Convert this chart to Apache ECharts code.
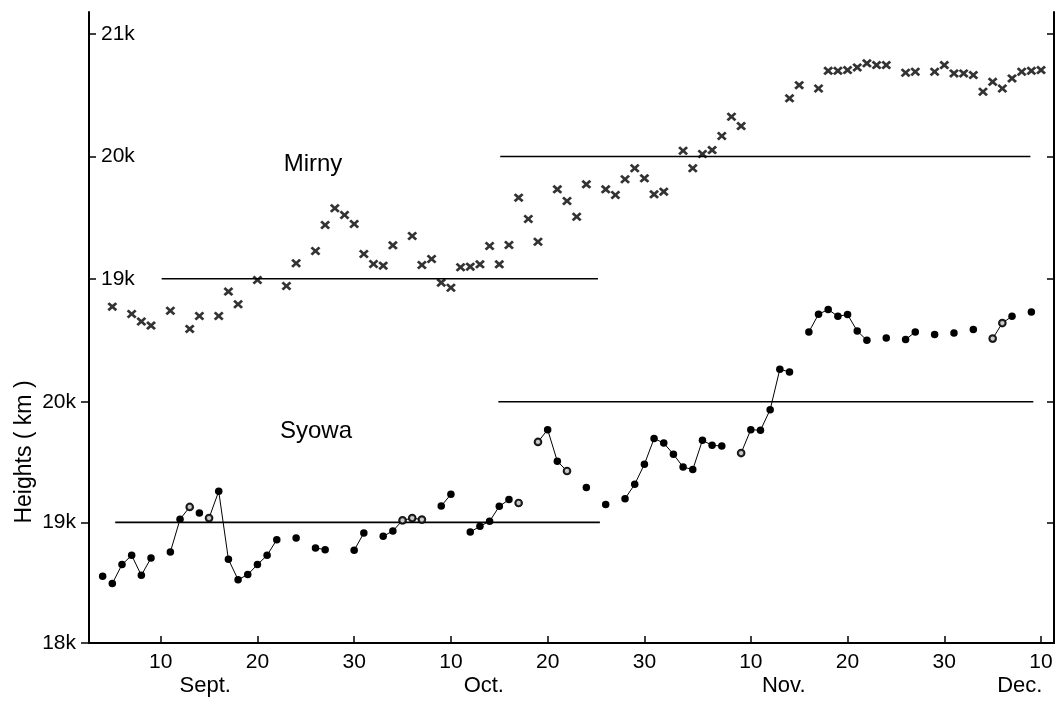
<!DOCTYPE html>
<html>
<head>
<meta charset="utf-8">
<title>Heights - Mirny and Syowa</title>
<script src="https://cdn.jsdelivr.net/npm/echarts@6/dist/echarts.min.js"></script>
<style>
  html, body { margin: 0; padding: 0; background: #fff; }
  #heightChart { width: 1061px; height: 704px; }
</style>
</head>
<body>
<div id="heightChart"></div>
<script>
// days are counted from 1 Sept (1 Oct = 31, 1 Nov = 61, 1 Dec = 91)
const tickDays = [10, 20, 30, 40, 50, 60, 71, 81, 91, 101];
const tickLabels = ['10', '20', '30', '10', '20', '30', '10', '20', '30', '10'];
const monthDays = [14.6, 43.4, 74.4, 98.8];
const monthNames = ['Sept.', 'Oct.', 'Nov.', 'Dec.'];

const syowaTicks = [18000, 19000, 20000];
const mirnyTicks = [19000, 20000, 21000];

// Mirny (x marks, upper scale)
const mirnyDays = [5, 7, 8, 9, 11, 13, 14, 16, 17, 18, 20, 23, 24, 26, 27, 28, 29, 30, 31, 32,
  33, 34, 36, 37, 38, 39, 40, 41, 42, 43, 44, 45, 46, 47, 48, 49, 51, 52, 53, 54,
  56, 57, 58, 59, 60, 61, 62, 64, 65, 66, 67, 68, 69, 70, 75, 76, 78, 79, 80, 81,
  82, 83, 84, 85, 87, 88, 90, 91, 92, 93, 94, 95, 96, 97, 98, 99, 100, 101];
const mirnyHeights = [18772, 18712, 18650, 18617, 18739, 18590, 18696, 18696, 18895, 18792,
  18990, 18941, 19127, 19227, 19440, 19576, 19521, 19448, 19203, 19121,
  19107, 19273, 19350, 19113, 19162, 18968, 18927, 19094, 19099, 19118,
  19268, 19118, 19276, 19663, 19489, 19303, 19731, 19636, 19507, 19772,
  19731, 19685, 19813, 19903, 19821, 19690, 19712, 20047, 19903, 20020,
  20052, 20167, 20324, 20248, 20475, 20583, 20556, 20700, 20700, 20706,
  20728, 20761, 20747, 20747, 20684, 20692, 20692, 20747, 20679, 20679,
  20665, 20529, 20610, 20556, 20638, 20692, 20700, 20706];

// Syowa (dots, lower scale); linked = 1 when joined to the previous dot
const syowaDays = [4, 5, 6, 7, 8, 9, 11, 12, 13, 14, 15, 16, 17, 18, 19, 20, 21, 22, 24, 26,
  27, 30, 31, 33, 34, 35, 36, 37, 39, 40, 42, 43, 44, 45, 46, 47, 49, 50, 51, 52,
  54, 56, 58, 59, 60, 61, 62, 63, 64, 65, 66, 67, 68, 70, 71, 72, 73, 74, 75, 77,
  78, 79, 80, 81, 82, 83, 85, 87, 88, 90, 92, 94, 96, 97, 98, 100];
const syowaHeights = [18553, 18493, 18650, 18727, 18561, 18705, 18755, 19026, 19128, 19078,
  19036, 19258, 18694, 18525, 18567, 18650, 18727, 18857, 18871, 18788,
  18774, 18769, 18912, 18885, 18929, 19017, 19036, 19023, 19136, 19233,
  18920, 18968, 19009, 19133, 19189, 19161, 19667, 19769, 19507, 19426,
  19289, 19148, 19197, 19316, 19482, 19695, 19658, 19565, 19459, 19438,
  19681, 19639, 19633, 19575, 19769, 19764, 19935, 20270, 20247, 20579,
  20726, 20765, 20709, 20723, 20587, 20510, 20529, 20516, 20579, 20557,
  20570, 20599, 20524, 20653, 20709, 20745];
const syowaLinked = [0, 0, 1, 1, 1, 1, 0, 1, 1, 0, 0, 1, 1, 1, 1, 1, 1, 1, 0, 0,
  1, 0, 1, 0, 1, 1, 1, 1, 0, 1, 0, 1, 1, 1, 1, 0, 0, 1, 1, 1,
  0, 0, 0, 1, 1, 1, 1, 1, 1, 1, 1, 1, 1, 0, 1, 1, 1, 1, 1, 0,
  1, 1, 1, 1, 1, 1, 0, 0, 1, 0, 0, 0, 0, 1, 1, 0];
const syowaOpenDays = [13, 15, 35, 36, 37, 47, 49, 52, 70, 96, 97];

// mean levels drawn as horizontal bars
const mirnyRefStart = [10.1, 45.1];
const mirnyRefEnd = [55.2, 99.9];
const mirnyRefLevel = [19000, 20000];
const syowaRefStart = [5.3, 44.9];
const syowaRefEnd = [55.4, 100.2];
const syowaRefLevel = [19000, 20000];

const FONT = 'Liberation Sans';

function kLabel(v) {
    return (v / 1000) + 'k';
}

function refData(starts, ends, levels) {
    let out = [];
    starts.forEach((s, i) => {
        if (i > 0) out.push([s, '-']);
        out.push([s, levels[i]], [ends[i], levels[i]]);
    });
    return out;
}

let syowaLine = [];
syowaDays.forEach((d, i) => {
    if (i > 0 && !syowaLinked[i]) syowaLine.push([d, '-']);
    syowaLine.push([d, syowaHeights[i]]);
});

const syowaOpen = syowaOpenDays.map(d => [d, syowaHeights[syowaDays.indexOf(d)]]);
const mirnyPoints = mirnyDays.map((d, i) => [d, mirnyHeights[i]]);

const crossPath = 'path://M0,2 L2,0 L5,3 L8,0 L10,2 L7,5 L10,8 L8,10 L5,7 L2,10 L0,8 L3,5 Z';

let chart = echarts.init(document.getElementById('heightChart'));

let option = {
    animation: false,
    backgroundColor: '#fff',
    grid: { left: 89, right: 7, top: 12, bottom: 61 },
    xAxis: [
        {
            type: 'value',
            min: 2.59,
            max: 102.34,
            position: 'bottom',
            axisLine: { lineStyle: { color: '#000', width: 2 } },
            axisTick: {
                customValues: tickDays,
                inside: true,
                length: 7,
                lineStyle: { color: '#000', width: 1.5 }
            },
            axisLabel: {
                customValues: tickDays,
                formatter: v => tickLabels[tickDays.indexOf(v)],
                color: '#000',
                fontFamily: FONT,
                fontSize: 21,
                margin: 9
            },
            splitLine: { show: false }
        },
        {
            type: 'value',
            min: 2.59,
            max: 102.34,
            position: 'bottom',
            axisLine: { show: false },
            axisTick: { show: false },
            axisLabel: {
                customValues: monthDays,
                formatter: v => monthNames[monthDays.indexOf(v)],
                color: '#000',
                fontFamily: FONT,
                fontSize: 22,
                margin: 32
            },
            splitLine: { show: false }
        }
    ],
    yAxis: [
        {
            // Syowa scale, labels outside
            type: 'value',
            min: 18000,
            max: 23232,
            position: 'left',
            axisLine: { show: true, lineStyle: { color: '#000', width: 2 } },
            axisTick: {
                customValues: syowaTicks,
                length: 8,
                lineStyle: { color: '#000', width: 1.5 }
            },
            axisLabel: {
                customValues: syowaTicks,
                formatter: kLabel,
                color: '#000',
                fontFamily: FONT,
                fontSize: 21,
                margin: 13
            },
            splitLine: { show: false }
        },
        {
            // Mirny scale, labels inside
            type: 'value',
            min: 16022,
            max: 21181,
            position: 'left',
            axisLine: { show: false },
            axisTick: {
                show: true,
                customValues: mirnyTicks,
                inside: true,
                length: 7,
                lineStyle: { color: '#000', width: 1.5 }
            },
            axisLabel: {
                customValues: mirnyTicks,
                inside: true,
                formatter: kLabel,
                color: '#000',
                fontFamily: FONT,
                fontSize: 21,
                margin: 12
            },
            splitLine: { show: false }
        },
        {
            type: 'value',
            min: 18000,
            max: 23232,
            position: 'right',
            axisLine: { show: true, lineStyle: { color: '#000', width: 2 } },
            axisTick: {
                show: true,
                customValues: [19000, 20000],
                inside: true,
                length: 7,
                lineStyle: { color: '#000', width: 1.5 }
            },
            axisLabel: { show: false },
            splitLine: { show: false }
        },
        {
            type: 'value',
            min: 16022,
            max: 21181,
            position: 'right',
            axisLine: { show: false },
            axisTick: {
                show: true,
                customValues: mirnyTicks,
                inside: true,
                length: 7,
                lineStyle: { color: '#000', width: 1.5 }
            },
            axisLabel: { show: false },
            splitLine: { show: false }
        }
    ],
    graphic: [
        {
            type: 'text', x: 313, y: 164,
            style: { text: 'Mirny', fontFamily: FONT, fontSize: 24, fill: '#000', align: 'center', verticalAlign: 'middle' }
        },
        {
            type: 'text', x: 316, y: 431,
            style: { text: 'Syowa', fontFamily: FONT, fontSize: 24, fill: '#000', align: 'center', verticalAlign: 'middle' }
        },
        {
            type: 'text', x: 25, y: 452, rotation: Math.PI / 2,
            style: { text: 'Heights ( km )', fontFamily: FONT, fontSize: 23, fill: '#000', align: 'center', verticalAlign: 'middle' }
        }
    ],
    series: [
        {
            name: 'Mirny mean',
            type: 'line',
            yAxisIndex: 1,
            data: refData(mirnyRefStart, mirnyRefEnd, mirnyRefLevel),
            showSymbol: false,
            lineStyle: { color: '#000', width: 1.6 },
            silent: true
        },
        {
            name: 'Syowa mean',
            type: 'line',
            yAxisIndex: 0,
            data: refData(syowaRefStart, syowaRefEnd, syowaRefLevel),
            showSymbol: false,
            lineStyle: { color: '#000', width: 1.6 },
            silent: true
        },
        {
            name: 'Mirny',
            type: 'scatter',
            yAxisIndex: 1,
            data: mirnyPoints,
            symbol: crossPath,
            symbolSize: [10, 9],
            itemStyle: { color: '#000' }
        },
        {
            name: 'Syowa',
            type: 'line',
            yAxisIndex: 0,
            data: syowaLine,
            connectNulls: false,
            showSymbol: true,
            symbol: 'circle',
            symbolSize: 7.5,
            itemStyle: { color: '#000' },
            lineStyle: { color: '#000', width: 1 }
        },
        {
            name: 'Syowa open',
            type: 'scatter',
            yAxisIndex: 0,
            data: syowaOpen,
            symbol: 'circle',
            symbolSize: 6.5,
            itemStyle: { color: '#fff', borderColor: '#000', borderWidth: 2.2 },
            z: 5
        }
    ]
};

chart.setOption(option);
</script>
</body>
</html>
